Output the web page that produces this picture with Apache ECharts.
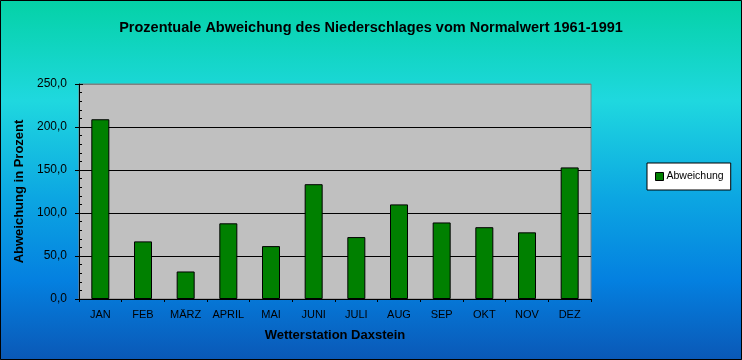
<!DOCTYPE html>
<html>
<head>
<meta charset="utf-8">
<script src="https://cdn.jsdelivr.net/npm/echarts@6/dist/echarts.min.js"></script>
<style>
html,body{margin:0;padding:0;background:#fff;}
#chart{width:742px;height:360px;}
</style>
</head>
<body>
<div id="chart"></div>
<script>
const categories = ['JAN','FEB','MÄRZ','APRIL','MAI','JUNI','JULI','AUG','SEP','OKT','NOV','DEZ'];
const abweichung = [209, 67, 32, 88, 61.5, 133.5, 72, 110, 89, 83.5, 77.5, 153];
const yTicks = [0, 50, 100, 150, 200, 250];

const FONT = '"Liberation Sans", Arial, sans-serif';
const chart = echarts.init(document.getElementById('chart'), null, {renderer: 'canvas'});

const yMin = yTicks[0], yMax = yTicks[yTicks.length - 1], yStep = yTicks[1] - yTicks[0];

chart.setOption({
  animation: false,
  backgroundColor: {
    type: 'linear', x: 0, y: 0, x2: 0, y2: 1,
    colorStops: [
      {offset: 0, color: '#04D2A6'},
      {offset: 0.28, color: '#1FD8DF'},
      {offset: 0.55, color: '#0CA6E2'},
      {offset: 0.78, color: '#0480E0'},
      {offset: 1, color: '#0A58B6'}
    ]
  },
  title: {
    text: 'Prozentuale Abweichung des Niederschlages vom Normalwert 1961-1991',
    left: 'center',
    top: 15,
    textStyle: {fontFamily: FONT, fontSize: 14.5, fontWeight: 'bold', color: '#000'}
  },
  legend: {
    left: 647, top: 163,
    orient: 'vertical',
    itemWidth: 8, itemHeight: 8, itemGap: 5,
    padding: [8, 7, 8, 8],
    backgroundColor: '#fff',
    borderColor: '#000', borderWidth: 1, borderRadius: 0,
    icon: 'rect',
    textStyle: {fontFamily: FONT, fontSize: 10.5, color: '#000', padding: [0, 0, 0, -2]},
    data: [{name: 'Abweichung', itemStyle: {color: '#008000', borderColor: '#000', borderWidth: 1}}]
  },
  grid: {
    left: 79, right: 151, top: 84, bottom: 61,
    show: true, backgroundColor: '#C0C0C0', borderColor: '#808080', borderWidth: 1
  },
  xAxis: {
    type: 'category',
    data: categories,
    name: 'Wetterstation Daxstein',
    nameLocation: 'middle',
    nameGap: 30,
    nameTextStyle: {fontFamily: FONT, fontSize: 13, fontWeight: 'bold', color: '#000'},
    axisLine: {show: true, lineStyle: {color: '#000', width: 1}},
    axisTick: {show: true, length: 3, alignWithLabel: false, lineStyle: {color: '#000'}},
    axisLabel: {fontFamily: FONT, fontSize: 11, color: '#000', margin: 10, interval: 0}
  },
  yAxis: [{
    type: 'value',
    min: yMin, max: yMax, interval: yStep,
    name: 'Abweichung in Prozent',
    nameLocation: 'middle',
    nameGap: 45,
    nameRotate: 90,
    nameTextStyle: {fontFamily: FONT, fontSize: 13, fontWeight: 'bold', color: '#000'},
    axisLine: {show: true, lineStyle: {color: '#000', width: 1}},
    axisTick: {show: true, length: 4, lineStyle: {color: '#000'}},
    axisLabel: {
      fontFamily: FONT, fontSize: 12, color: '#000', margin: 12,
      formatter: v => v.toFixed(1).replace('.', ',')
    },
    splitLine: {show: true, lineStyle: {color: ['#000', '#000', '#000', '#000', '#000', '#808080'], width: 1}}
  }, {
    type: 'value',
    position: 'left',
    min: yMin, max: yMax, interval: yStep,
    axisLine: {show: false},
    axisLabel: {show: false},
    splitLine: {show: false},
    axisTick: {show: true, inside: true, length: 4, lineStyle: {color: '#000'}},
    minorTick: {show: true, splitNumber: 5, length: 3, lineStyle: {color: '#000'}}
  }],
  series: [{
    name: 'Abweichung',
    type: 'bar',
    yAxisIndex: 0,
    data: abweichung,
    barWidth: 18,
    itemStyle: {color: '#008000', borderColor: '#000', borderWidth: 1}
  }],
  graphic: [{
    type: 'rect',
    shape: {x: 0.5, y: 0.5, width: 741, height: 359},
    style: {fill: 'none', stroke: '#000', lineWidth: 1},
    z: 100
  }]
});
</script>
</body>
</html>
